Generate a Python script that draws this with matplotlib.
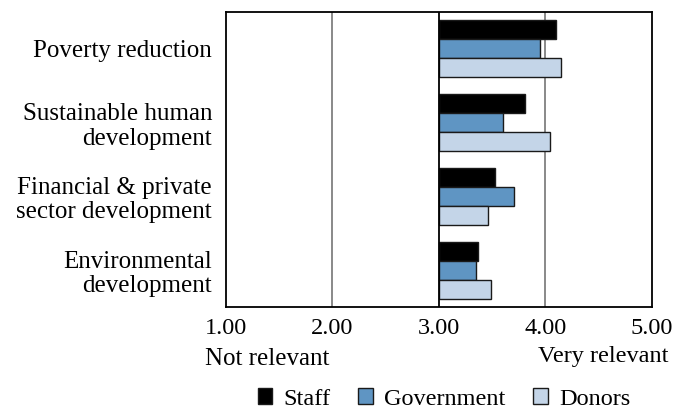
import matplotlib
matplotlib.use("Agg")
import matplotlib.pyplot as plt
import numpy as np
from matplotlib.patches import Patch

categories = ["Poverty reduction", "Sustainable human\ndevelopment",
              "Financial & private\nsector development", "Environmental\ndevelopment"]
series_names = ["Staff", "Government", "Donors"]
staff = [4.10, 3.81, 3.53, 3.37]
government = [3.95, 3.60, 3.70, 3.35]
donors = [4.15, 4.04, 3.46, 3.49]
xticks = [1.0, 2.0, 3.0, 4.0, 5.0]
xtick_labels = ["1.00", "2.00", "3.00", "4.00", "5.00"]
baseline = 3.0

colors = ["#000000", "#5f95c3", "#c4d5e8"]
plt.rcParams['font.family'] = ['Liberation Serif', 'DejaVu Serif']
FS = 17.5

fig = plt.figure(figsize=(6.73, 4.11), dpi=100)
ax = fig.add_axes([226/673, 1 - 307/411, (652-226)/673, (307-12)/411])

n = len(categories)
y = np.arange(n)
h = 0.258
for i, (vals, c) in enumerate(zip([staff, government, donors], colors)):
    v = np.array(vals)
    ax.barh(y + (i - 1) * h, v - baseline, left=baseline, height=h,
            color=c, edgecolor="#1a1a1a", linewidth=1.0, zorder=3)

ax.set_xlim(1, 5)
ax.set_ylim(n - 0.5, -0.5)
ax.set_xticks(xticks)
ax.set_xticklabels(xtick_labels, fontsize=FS)
ax.set_yticks(y)
ax.set_yticklabels(categories, fontsize=18, linespacing=1.15)
ax.tick_params(axis='both', length=0)
ax.tick_params(axis='y', pad=10)
ax.tick_params(axis='x', pad=8)
for xv in [2.0, 4.0]:
    ax.axvline(xv, color="#808080", linewidth=1.3, zorder=1)
ax.axvline(3.0, color="#000000", linewidth=1.3, zorder=4)
for s in ax.spines.values():
    s.set_linewidth(1.3)
    s.set_color("#000000")

fig.text(205/673, 1 - 359/411, "Not relevant", fontsize=18, ha='left', va='center')
fig.text(669/673, 1 - 356/411, "Very relevant", fontsize=FS, ha='right', va='center')

handles = [Patch(facecolor=c, edgecolor="#1a1a1a", label=nm) for c, nm in zip(colors, series_names)]
fig.legend(handles=handles, loc='center', bbox_to_anchor=(444/673, 1 - 399/411), ncol=3,
           frameon=False, fontsize=FS, handlelength=0.6, handleheight=0.6,
           handletextpad=0.45, columnspacing=1.15, borderaxespad=0, borderpad=0)

fig.savefig("out.png", dpi=100)
